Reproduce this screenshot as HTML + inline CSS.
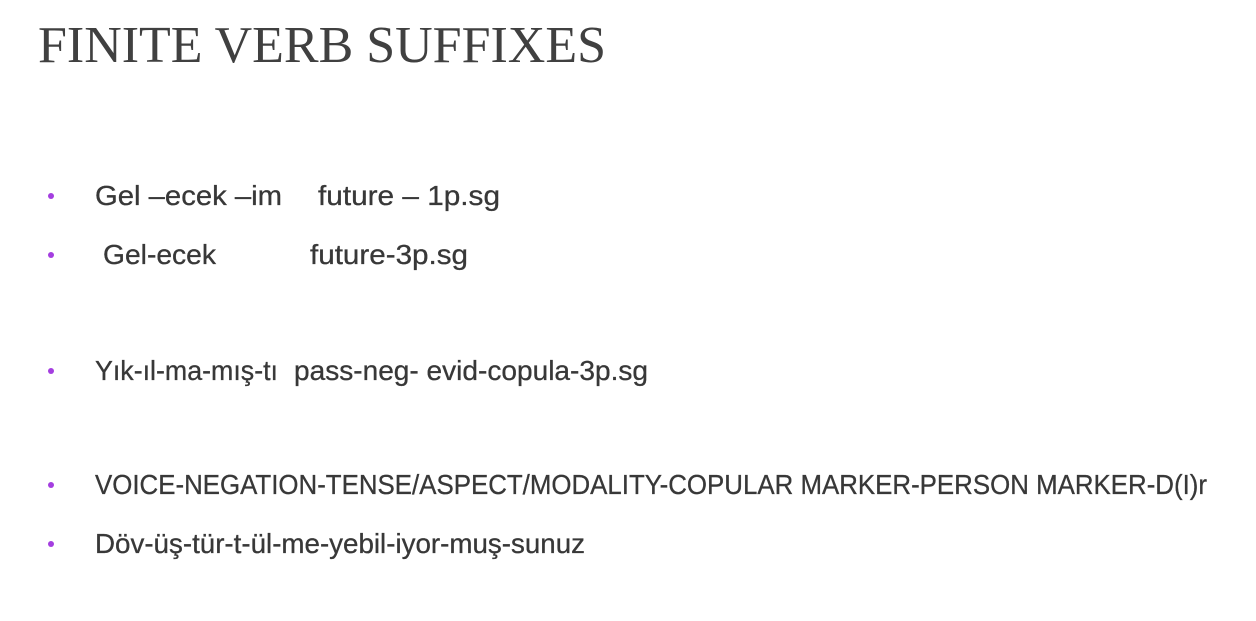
<!DOCTYPE html>
<html><head><meta charset="utf-8"><style>
html,body{margin:0;padding:0;background:#fff;}
svg{display:block}
.t{font-family:"Liberation Serif",serif;fill:#404040;font-size:52px}
.b{font-family:"Liberation Sans",sans-serif;fill:#383838;font-size:28px;stroke:#383838;stroke-width:0.3}
</style></head><body>
<svg width="1256" height="621" viewBox="0 0 1256 621" xmlns="http://www.w3.org/2000/svg">
<text class="t" x="38" y="62" textLength="568" lengthAdjust="spacingAndGlyphs">FINITE VERB SUFFIXES</text>
<g fill="#a43ee0">
<circle cx="51" cy="196" r="3"/><circle cx="51" cy="255" r="3"/><circle cx="51" cy="371" r="3"/><circle cx="51" cy="485" r="3"/><circle cx="51" cy="544" r="3"/>
</g>
<text class="b" x="95" y="205" textLength="187" lengthAdjust="spacingAndGlyphs">Gel –ecek –im</text>
<text class="b" x="318" y="205" textLength="182" lengthAdjust="spacingAndGlyphs">future – 1p.sg</text>
<text class="b" x="103" y="264" textLength="113" lengthAdjust="spacingAndGlyphs">Gel-ecek</text>
<text class="b" x="310" y="264" textLength="158" lengthAdjust="spacingAndGlyphs">future-3p.sg</text>
<text class="b" x="95" y="380" textLength="183" lengthAdjust="spacingAndGlyphs">Yık-ıl-ma-mış-tı</text>
<text class="b" x="294" y="380" textLength="354" lengthAdjust="spacingAndGlyphs">pass-neg- evid-copula-3p.sg</text>
<text class="b" x="95" y="494" textLength="1112" lengthAdjust="spacingAndGlyphs">VOICE-NEGATION-TENSE/ASPECT/MODALITY-COPULAR MARKER-PERSON MARKER-D(I)r</text>
<text class="b" x="95" y="553" textLength="490" lengthAdjust="spacingAndGlyphs">Döv-üş-tür-t-ül-me-yebil-iyor-muş-sunuz</text>
</svg>
</body></html>
